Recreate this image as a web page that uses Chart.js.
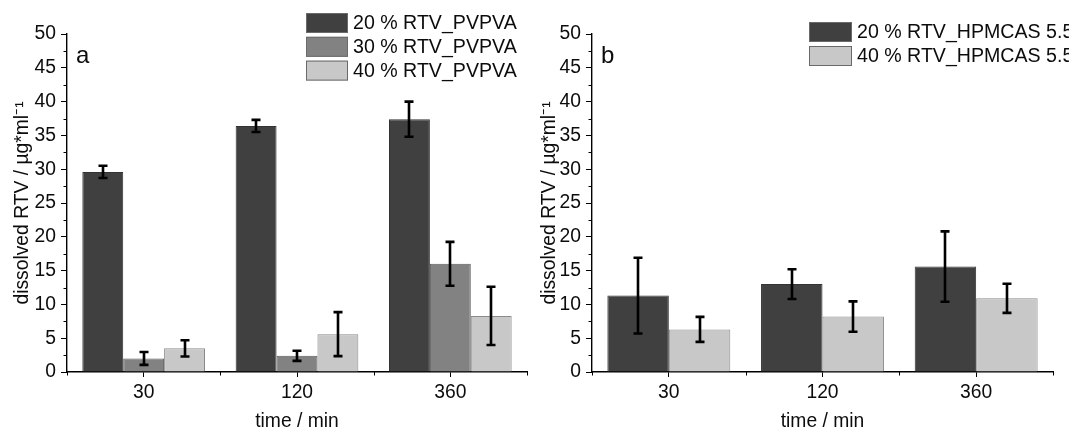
<!DOCTYPE html>
<html><head><meta charset="utf-8">
<script src="https://cdn.jsdelivr.net/npm/chart.js@4/dist/chart.umd.min.js"></script>
<style>
html,body{margin:0;padding:0;background:#fff;overflow:hidden}
#wrap{position:relative;width:1069px;height:433px}
.p{position:absolute;top:0;height:433px}
#pa{left:0;width:534px}
#pb{left:534px;width:535px}
</style></head><body>
<div id="wrap"><div class="p" id="pa"><canvas id="ca"></canvas></div><div class="p" id="pb"><canvas id="cb"></canvas></div></div>
<script>
// ---- data ----
const categories = ['30', '120', '360'];
const xTitle = 'time / min';
const yTitle = 'dissolved RTV / µg*ml⁻¹';
const labelsA = ['20 % RTV_PVPVA', '30 % RTV_PVPVA', '40 % RTV_PVPVA'];
const pvpva20 = [29.6, 36.4, 37.4];
const pvpva20Err = [0.9, 0.9, 2.6];
const pvpva30 = [2.0, 2.4, 16.0];
const pvpva30Err = [0.95, 0.75, 3.25];
const pvpva40 = [3.5, 5.6, 8.3];
const pvpva40Err = [1.2, 3.25, 4.3];
const labelsB = ['20 % RTV_HPMCAS 5.5', '40 % RTV_HPMCAS 5.5'];
const hpmcas20 = [11.3, 13.0, 15.6];
const hpmcas20Err = [5.6, 2.2, 5.2];
const hpmcas40 = [6.3, 8.2, 10.9];
const hpmcas40Err = [1.85, 2.25, 2.15];
const yMin = 0, yMax = 50, yStep = 5;

// ---- styles ----
const FONT = "'Liberation Sans', Arial, sans-serif";
Chart.defaults.font.family = FONT;
Chart.defaults.font.size = 19;
Chart.defaults.color = '#0c0c0c';
const DARK = '#404040', MID = '#828282', LIGHT = '#c8c8c8';

const errorBars = {
  id: 'errorBars',
  afterDatasetsDraw(chart) {
    const ctx = chart.ctx, ys = chart.scales.y;
    ctx.save();
    ctx.strokeStyle = '#000';
    ctx.lineWidth = 2.6;
    ctx.lineCap = 'butt';
    chart.data.datasets.forEach((ds, i) => {
      const meta = chart.getDatasetMeta(i);
      meta.data.forEach((el, j) => {
        const v = ds.data[j], e = ds.errors[j];
        const t = ys.getPixelForValue(v + e), b = ys.getPixelForValue(v - e);
        const x = Math.round(el.x);
        ctx.beginPath();
        ctx.moveTo(x, t); ctx.lineTo(x, b);
        ctx.moveTo(x - 4.5, t); ctx.lineTo(x + 4.5, t);
        ctx.moveTo(x - 4.5, b); ctx.lineTo(x + 4.5, b);
        ctx.stroke();
      });
    });
    ctx.restore();
  }
};

const extras = {
  id: 'extras',
  afterDraw(chart, args, opts) {
    const ctx = chart.ctx, ys = chart.scales.y, xs = chart.scales.x;
    ctx.save();
    ctx.strokeStyle = '#000';
    ctx.lineWidth = 1;
    // minor y ticks
    for (let v = yMin + yStep / 2; v < yMax; v += yStep) {
      const y = Math.round(ys.getPixelForValue(v)) + 0.5;
      ctx.beginPath(); ctx.moveTo(xs.left - 3.5, y); ctx.lineTo(xs.left, y); ctx.stroke();
    }
    // x boundary minor ticks
    for (let i = 0; i <= categories.length; i++) {
      const x = Math.round(xs.getPixelForValue(i - 0.5)) + 0.5;
      ctx.beginPath(); ctx.moveTo(x, ys.bottom); ctx.lineTo(x, ys.bottom + 3.5); ctx.stroke();
    }
    // panel letter
    ctx.fillStyle = '#0c0c0c';
    ctx.font = '24px ' + FONT;
    ctx.textBaseline = 'alphabetic';
    ctx.fillText(opts.letter, chart.chartArea.left + opts.letterDx, opts.letterY);
    // legend
    const L = opts.legend;
    ctx.font = '19.6px ' + FONT;
    ctx.textBaseline = 'middle';
    chart.data.datasets.forEach((ds, i) => {
      const y = L.y + i * L.row;
      ctx.fillStyle = ds.backgroundColor;
      ctx.fillRect(L.x, y, L.w, L.h);
      ctx.strokeStyle = '#6a6a6a';
      ctx.lineWidth = 1;
      ctx.strokeRect(L.x + 0.5, y + 0.5, L.w - 1, L.h - 1);
      ctx.fillStyle = '#0c0c0c';
      ctx.fillText(ds.label, L.x + L.w + 5, y + L.h / 2 + 1);
    });
    ctx.restore();
  }
};

function makeChart(id, datasets, yW, padRight, titlePad, letter, legend) {
  return new Chart(document.getElementById(id), {
    type: 'bar',
    data: { labels: categories, datasets },
    plugins: [errorBars, extras],
    options: {
      responsive: true, maintainAspectRatio: false, animation: false,
      layout: { padding: { top: 34, right: padRight, left: 0, bottom: 0 } },
      datasets: { bar: { categoryPercentage: 0.8, barPercentage: 1.0, borderWidth: 1 } },
      plugins: {
        legend: { display: false }, tooltip: { enabled: false },
        extras: { letter, letterDx: 9, letterY: 63, legend }
      },
      scales: {
        x: {
          afterFit(s) { s.height = 61; },
          grid: { offset: false, drawOnChartArea: false, tickLength: 5, color: '#000', lineWidth: 1 },
          border: { display: true, color: '#000', width: 1.4 },
          ticks: { padding: 4, font: { size: 19.3 } },
          title: { display: true, text: xTitle, font: { size: 19.3 }, padding: { top: 0, bottom: 0 } }
        },
        y: {
          min: yMin, max: yMax,
          afterFit(s) { s.width = yW; },
          grid: { drawOnChartArea: false, tickLength: 6, color: '#000', lineWidth: 1 },
          border: { display: true, color: '#000', width: 1.4 },
          ticks: { stepSize: yStep, padding: 5, font: { size: 19.3 } },
          title: { display: true, text: yTitle, font: { size: 19.3 }, padding: { top: titlePad, bottom: 0 } }
        }
      }
    }
  });
}

makeChart('ca', [
  { label: labelsA[0], data: pvpva20, errors: pvpva20Err, backgroundColor: DARK, borderColor: '#333' },
  { label: labelsA[1], data: pvpva30, errors: pvpva30Err, backgroundColor: MID, borderColor: '#5a5a5a' },
  { label: labelsA[2], data: pvpva40, errors: pvpva40Err, backgroundColor: LIGHT, borderColor: '#8a8a8a' }
], 67, 7, 11, 'a', { x: 306, y: 13, w: 42, h: 20, row: 23.8 });

makeChart('cb', [
  { label: labelsB[0], data: hpmcas20, errors: hpmcas20Err, backgroundColor: DARK, borderColor: '#333' },
  { label: labelsB[1], data: hpmcas40, errors: hpmcas40Err, backgroundColor: LIGHT, borderColor: '#8a8a8a' }
], 58, 16, 4, 'b', { x: 275, y: 22, w: 43, h: 20, row: 24 });
</script>
</body></html>
